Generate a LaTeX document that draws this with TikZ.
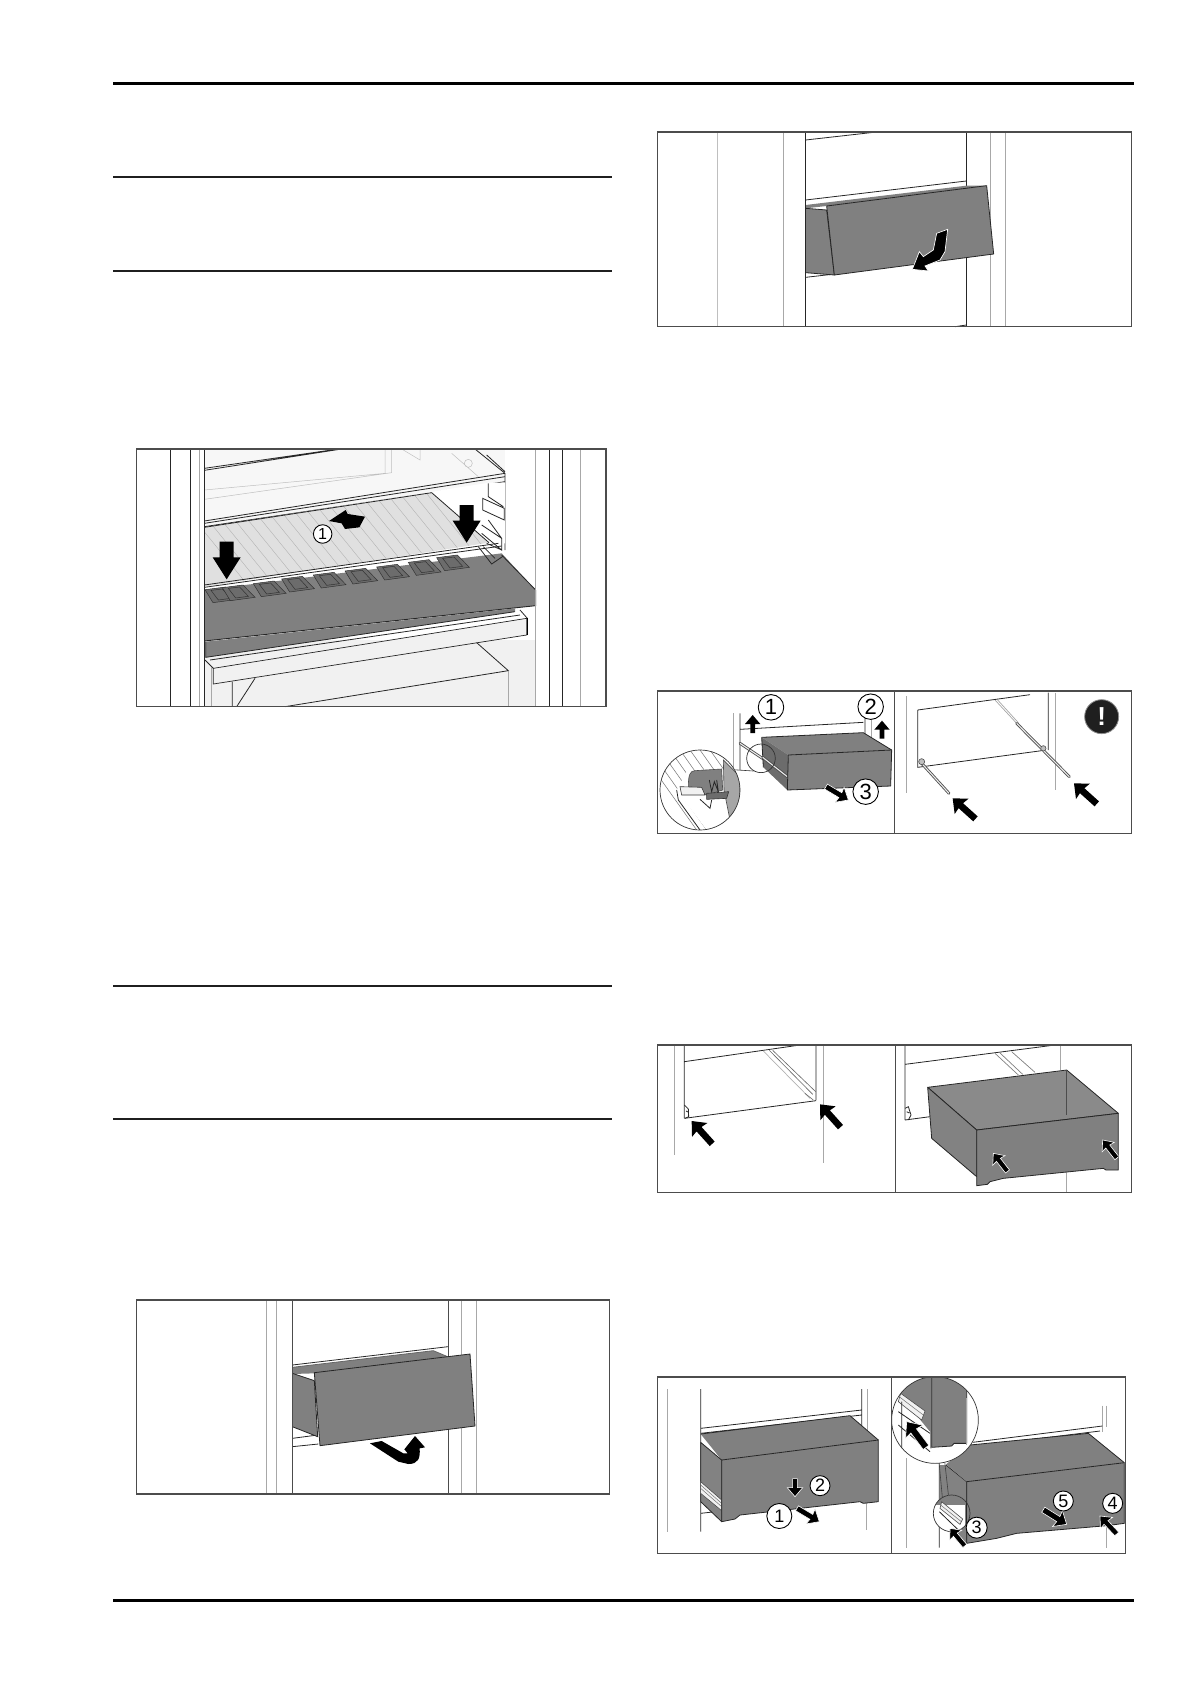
\documentclass[tikz,border=0pt]{standalone}
\usepackage{fontspec}
\setsansfont{Liberation Sans}
\definecolor{drawergray}{HTML}{808080}
\definecolor{darkgray}{HTML}{6C6C6C}
\definecolor{wallgray}{HTML}{A8A8A8}
\definecolor{framegray}{HTML}{4C4C4C}
\definecolor{pale}{HTML}{F1F1F1}
\tikzset{
  rulethick/.style={line width=3pt,black},
  rulethin/.style={line width=2pt,black!88},
  panel/.style={draw=framegray,line width=1.2pt},
  wall/.style={draw=wallgray,line width=1pt},
  edge/.style={draw=black!85,line width=.8pt},
  faint/.style={draw=black!25,line width=.5pt},
  drawer/.style={fill=drawergray,draw=black!85,line width=.8pt,line join=round},
  num/.style={circle,draw=black,fill=white,inner sep=0pt,line width=.9pt,minimum size=#1,font=\sffamily\fontsize{18}{18}\selectfont},
  numbig/.style={num=25.5pt,font=\sffamily\fontsize{22}{22}\selectfont},
  lens/.style={circle,draw=black!80,line width=.7pt,inner sep=0pt,minimum size=#1},
  outlined/.style={draw=white,line width=.7pt},
}
\newcommand{\blockarrow}[4][]{\fill[black,#1,shift={(#2)},rotate=#3,scale=#4] (0,0) -- (-36,-31) -- (-33,-10) -- (-92,-10) -- (-92,10) -- (-33,10) -- (-36,31) -- cycle;}
\newcommand{\tallarrow}[2]{\fill[black,shift={(#1)},rotate=#2] (0,0) -- (-66,-42) -- (-66,-21) -- (-113,-21) -- (-113,21) -- (-66,21) -- (-66,42) -- cycle;}
\newcommand{\smallarrow}[3][]{\fill[black,#1,shift={(#2)},rotate=#3] (0,0) -- (-27,-23) -- (-27,-7) -- (-54,-7) -- (-54,7) -- (-27,7) -- (-27,23) -- cycle;}
\newcommand{\railbar}[2]{\draw[draw=black!70,line width=2.8pt,line cap=round] (#1) -- (#2); \draw[draw=black!8,line width=1.1pt] (#1) -- (#2);}
\begin{document}
\begin{tikzpicture}[x=1pt,y=-1pt]
\useasboundingbox (0,0) rectangle (1191,1684);

\draw[rulethick] (113,83.5) -- (1134,83.5);
\draw[rulethick] (113,1600.3) -- (1134,1600.3);
\foreach \ry in {177,270.7,985.7,1118.7}
  \draw[rulethin] (113,\ry) -- (612,\ry);

% shelf with the ribbed cover
\begin{scope}[shift={(125,440)},scale=1/3]
  \fill[pale!60] (238,27) rectangle (1140,260);
  \fill[pale] (238,600) rectangle (1232,800);
  \draw[faint] (238,150) -- (780,100) (238,178) -- (800,98) (780,27) -- (780,100) (800,27) -- (800,98)
    (830,27) -- (885,60) -- (885,27) (980,40) -- (1060,110) (1030,70) circle (12);
  \draw[edge] (238,85) -- (640,27) (238,91) -- (650,27);
  \draw[edge] (1050,27) -- (1140,100) -- (1140,330) (1085,45) -- (1140,95);
  \draw[edge] (238,243) -- (1140,100) (238,250) -- (1140,110) (238,260) -- (1140,125);
  \fill[white] (238,262) -- (1092,128) -- (1140,128) -- (1140,310) -- (1092,310) -- cycle;
  \fill[black!12] (238,262) -- (920,158) -- (1092,308) -- (238,440) -- cycle;
  \begin{scope}
    \clip (238,262) -- (920,158) -- (1092,308) -- (238,440) -- cycle;
    \foreach \rx in {120,160,...,940}
      \draw[draw=black!30,line width=.4pt] (\rx,130) -- (\rx+260,450);
  \end{scope}
  \draw[edge] (238,262) -- (920,158) -- (1092,308);
  \draw[edge] (1090,130) -- (1090,170) -- (1135,200) (1073,175) -- (1138,205) -- (1138,240) -- (1073,210) -- cycle;
  \draw[edge] (1090,240) -- (1130,295) (1070,255) -- (1130,295) -- (1130,330) -- (1070,280) (1085,310) -- (1130,330);
  \draw[edge] (238,435) -- (1120,310) (238,442) -- (1130,318);
  \fill[drawergray] (238,450) -- (1130,340) -- (1232,450) -- (1232,497) -- (238,603) -- cycle;
  \foreach \hx/\hy in {240/449,292/443,385/431,470/417,565/405,660/393,755/381,850/367,935/353}
    \filldraw[fill=darkgray,draw=black!80,line width=.5pt] (\hx,\hy) -- ++(62,-8) -- ++(36,37) -- ++(-74,10) -- cycle
      (\hx+18,\hy+2) -- ++(34,-4) -- ++(26,28) -- ++(-38,5) -- cycle;
  \draw[edge] (1060,320) -- (1100,372) -- (1135,348) (1075,320) -- (1110,355);
  \draw[edge] (1130,345) -- (1232,450);
  \draw[draw=black!85,line width=.9pt] (1232,450) -- (1232,497) -- (238,603);
  \fill[drawergray] (242,605) -- (1170,505) -- (1170,515) -- (242,652) -- cycle;
  \draw[edge] (242,605) -- (242,652) -- (1170,515);
  \filldraw[fill=pale,draw=black!85,line width=.7pt] (265,685) -- (1205,535) -- (1205,585) -- (265,732) -- cycle;
  \draw[edge] (240,660) -- (265,685) (255,660) -- (1185,525) (1185,510) -- (1207,535);
  \draw[draw=black,line width=1.4pt] (1207,535) -- (1207,585);
  \draw[edge] (1055,608) -- (1150,692) -- (480,800);
  \draw[edge] (322,725) -- (322,800) (390,715) -- (335,800);
  \draw[wall] (258,680) -- (258,800) (1150,692) -- (1150,800);
  \foreach \wx in {222,1232,1365}
    \draw[wall] (\wx,27) -- (\wx,800);
  \foreach \wx in {137,197,238,1273,1313}
    \draw[edge] (\wx,27) -- (\wx,800);
  \tallarrow{305,418}{-90}
  \tallarrow{1025,308}{-90}
  \fill (612,243) -- (662,210) -- (668,222) -- (720,230) -- (703,262) -- (660,267) -- (650,250) -- cycle;
  \node[num=18.5pt,font=\sffamily\fontsize{16}{16}\selectfont] (shelfone) at (593,282) {1};
  \draw[panel] (35,27) rectangle (1443,800);
\end{scope}

% front swung upward
\begin{scope}[shift={(125,1290)},scale=1/3]
  \foreach \wx in {424,455,1009,1055}
    \draw[wall] (\wx,30) -- (\wx,612);
  \foreach \wx in {502,969}
    \draw[draw=black!70,line width=.9pt] (\wx,30) -- (\wx,612);
  \draw[edge] (502,225) -- (969,170);
  \draw[edge] (502,445) -- (578,435) (502,470) -- (580,462);
  \fill[drawergray] (502,232) -- (925,182) -- (968,200) -- (568,250) -- (502,252) -- cycle;
  \draw[edge,draw=black!60] (502,232) -- (925,182) -- (968,200);
  \filldraw[drawer] (502,250) -- (568,272) -- (578,440) -- (502,410);
  \fill[white] (500,235) -- (502,232) -- (502,410) -- (500,410) -- cycle;
  \draw[draw=black!70,line width=.9pt] (502,30) -- (502,612);
  \filldraw[drawer] (568,248) -- (1035,192) -- (1050,408) -- (585,467) -- cycle;
  \fill (735,460) -- (770,453) -- (835,490) -- (848,490) -- (838,478) -- (870,438) -- (900,472) -- (884,475)
    .. controls (886,505) and (880,522) .. (850,522) -- (820,515) -- cycle;
  \draw[panel] (35,30) rectangle (1453,612);
\end{scope}

% front swung downward
\begin{scope}[shift={(650,120)},scale=1/3]
  \draw[draw=black!25,line width=1pt] (202,36) -- (202,620);
  \foreach \wx in {400,1021,1066}
    \draw[wall] (\wx,36) -- (\wx,620);
  \foreach \wx in {467,949}
    \draw[edge] (\wx,36) -- (\wx,620);
  \draw[edge] (467,60) -- (680,36) (467,240) -- (949,183) (467,472) -- (555,462) (915,620) -- (949,615);
  \fill[drawergray] (467,255) -- (949,197) -- (1010,197) -- (530,258) -- (467,265) -- cycle;
  \filldraw[drawer] (467,265) -- (530,270) -- (553,465) -- (467,458);
  \draw[edge] (467,255) -- (467,458);
  \filldraw[drawer] (530,258) -- (1010,197) -- (1031,402) -- (553,465) -- cycle;
  \filldraw[fill=black,outlined] (893,328) -- (860,340) -- (850,390) -- (820,410) -- (808,395) -- (787,448)
    -- (835,453) -- (825,438) -- (870,420) -- (885,395) -- cycle;
  \draw[panel] (23,36) rectangle (1445,620);
\end{scope}

% unhooking the drawer, rails in
\begin{scope}[shift={(650,680)},scale=1/3]
  \draw[wall] (250,100) -- (250,265) (665,110) -- (665,180);
  \draw[edge] (270,100) -- (270,270) (270,148) -- (640,127) (645,110) -- (645,170);
  \railbar{270,190}{412,285}
  \fill[drawergray] (335,172) -- (640,158) -- (725,210) -- (415,225) -- cycle;
  \draw[edge] (335,172) -- (640,158) -- (725,210);
  \fill[darkgray] (335,172) -- (415,225) -- (412,330) -- (340,262) -- cycle;
  \draw[edge] (335,172) -- (340,262);
  \railbar{338,232}{412,290}
  \filldraw[drawer] (415,225) -- (725,210) -- (722,318) -- (412,330) -- cycle;
  \smallarrow{308,105}{90}
  \smallarrow{696,122}{90}
  \blockarrow[draw=white,line width=.6pt]{595,360}{-31}{.85}
  \begin{scope}
    \clip (150,330) circle (120);
    \fill[white] (30,210) rectangle (270,450);
    \foreach \hx in {-30,0,...,180}
      \draw[draw=black!55,line width=.5pt] (\hx,210) -- (\hx+170,450);
    \fill[white] (80,330) -- (110,275) -- (225,270) -- (245,450) -- (170,450) -- cycle;
    \draw[edge] (80,330) -- (85,360) -- (150,450);
    \filldraw[fill=black!35,draw=black!70,line width=.6pt] (220,240) -- (270,290) -- (270,400) -- (240,420) -- (222,330) -- cycle;
    \filldraw[fill=drawergray,draw=black!70,line width=.6pt] (115,320) .. controls (115,285) and (120,272) .. (135,272) -- (215,267) -- (218,330) -- (170,345) -- cycle;
    \draw[edge] (178,300) -- (185,335) -- (193,305) -- (205,335) -- (200,300);
    \filldraw[fill=pale,draw=black!80,line width=.6pt] (90,320) -- (155,322) -- (165,345) -- (95,345) -- cycle;
    \filldraw[fill=darkgray,draw=black!80,line width=.6pt] (170,340) -- (236,335) -- (230,355) -- (170,358) -- cycle;
    \draw[edge] (150,358) -- (180,385) -- (185,360);
  \end{scope}
  \node[lens=80pt] (drawerlens) at (150,330) {};
  \node[lens=28.6pt] (raillens) at (333,235) {};
  \draw[draw=black!80,line width=.6pt] (drawerlens.30) -- (raillens.240);
  \node[numbig] (liftone) at (363,82) {1};
  \node[numbig] (lifttwo) at (662,80) {2};
  \node[numbig] (pullthree) at (647,335) {3};

  \draw[wall] (770,48) -- (770,340) (1217,38) -- (1217,330);
  \draw[edge] (1195,38) -- (1195,210) (803,90) -- (1140,44) (803,90) -- (803,262) -- (1175,212);
  \draw[draw=black!35,line width=.7pt] (1035,60) -- (1098,128) (1043,60) -- (1105,128);
  \railbar{1100,130}{1258,290}
  \railbar{815,250}{897,340}
  \filldraw[fill=black!25,draw=black!70,line width=.6pt] (1180,205) circle (8) (815,245) circle (9);
  \blockarrow{908,355}{138}{1}
  \blockarrow{1272,310}{138}{1}
  \node[circle,fill=black!88,draw=black!45,line width=.8pt,minimum size=34pt,inner sep=0pt,text=white,font=\sffamily\bfseries\fontsize{26}{26}\selectfont] (warning) at (1355,110) {!};
  \draw[panel] (23,33) rectangle (1445,460);
  \draw[panel] (733,33) -- (733,460);
\end{scope}

% rails with and without drawer
\begin{scope}[shift={(650,1035)},scale=1/3]
  \draw[wall] (73,30) -- (73,360) (519,30) -- (519,385);
  \draw[edge] (103,30) -- (103,250) (498,30) -- (498,195) (103,80) -- (450,30) (103,250) -- (498,197);
  \draw[draw=black!30,line width=.7pt] (340,48) -- (480,190);
  \draw[draw=black!60,line width=.6pt] (358,46) -- (488,178) (368,46) -- (497,170) (465,175) -- (490,195);
  \draw[edge] (103,210) -- (115,222) -- (116,245) -- (105,250) (108,228) -- (116,232);
  \blockarrow{125,258}{132}{1}
  \blockarrow{510,208}{132}{1}

  \draw[edge] (765,30) -- (765,255) (765,88) -- (1215,30) (765,255) -- (840,245);
  \draw[edge] (765,220) -- (775,215) -- (783,240) -- (775,255) (770,230) -- (778,234);
  \draw[wall] (1232,30) -- (1232,105) (1250,405) -- (1250,470);
  \draw[draw=black!50,line width=.7pt] (1035,55) -- (1105,120) (1048,52) -- (1118,118) (1085,50) -- (1155,112);
  \filldraw[drawer,fill=drawergray!92!white] (833,157) -- (1250,105) -- (1405,235) -- (980,285) -- cycle;
  \draw[draw=black!70,line width=.6pt] (1250,105) -- (1250,240);
  \filldraw[drawer,fill=darkgray!85!white] (833,157) -- (845,310) -- (980,425) -- (980,285) -- cycle;
  \filldraw[drawer] (980,285) -- (1405,235) -- (1405,405) -- (1368,405) -- (1360,400) -- (1060,430) -- (1020,440) -- (1012,448) -- (980,452) -- cycle;
  \blockarrow[draw=white,line width=.6pt]{1030,355}{128}{.75}
  \begin{scope}
    \clip (1300,250) rectangle (1405,420);
    \blockarrow[draw=white,line width=.6pt]{1358,315}{128}{.75}
  \end{scope}
  \draw[panel] (23,30) rectangle (1445,472);
  \draw[panel] (736,30) -- (736,472);
\end{scope}

% putting the drawer back
\begin{scope}[shift={(650,1365)},scale=1/3]
  \draw[wall] (52,72) -- (52,500) (652,72) -- (652,200) (650,415) -- (650,495);
  \draw[edge] (152,72) -- (152,500) (635,72) -- (635,200) (152,190) -- (635,135) (152,205) -- (635,150) (152,445) -- (215,438);
  \fill[drawergray] (152,207) -- (600,152) -- (685,225) -- (215,285) -- cycle;
  \filldraw[drawer,fill=darkgray!85!white] (152,232) -- (215,285) -- (215,470) -- (152,410) -- cycle;
  \filldraw[fill=pale,draw=black!70,line width=.6pt] (152,350) -- (215,405) -- (215,437) -- (152,385) -- cycle;
  \draw[draw=black!55,line width=.5pt] (152,360) -- (215,415) (152,370) -- (215,425);
  \draw[edge] (152,207) -- (600,152) -- (685,225);
  \filldraw[drawer] (215,285) -- (685,225) -- (685,410) -- (640,415) -- (630,410) -- (270,450) -- (255,462) -- (215,470) -- cycle;
  \smallarrow[draw=white,line width=.6pt]{435,395}{-90}
  \blockarrow[draw=white,line width=.6pt]{508,470}{-31}{.85}
  \node[num=20pt] (pushtwo) at (510,362) {2};
  \node[num=25pt] (pushone) at (388,453) {1};

  \draw[wall] (770,280) -- (770,548) (1357,122) -- (1357,200) (1370,122) -- (1370,185) (1370,480) -- (1370,548);
  \draw[edge] (868,290) -- (868,548) (968,232) -- (1357,183) (968,245) -- (1350,198);
  \fill[darkgray!85!white] (870,300) -- (888,300) -- (950,350) -- (950,535) -- (870,470) -- cycle;
  \draw[edge] (888,300) -- (950,350) -- (950,535);
  \fill[drawergray] (888,298) -- (960,240) -- (1315,205) -- (1423,293) -- (950,350) -- cycle;
  \draw[edge] (960,240) -- (1315,205) -- (1423,293);
  \filldraw[drawer] (950,350) -- (1423,293) -- (1423,475) -- (1370,482) -- (1100,505) -- (1040,520) -- (950,535) -- cycle;
  \begin{scope}
    \clip (905,445) circle (55);
    \fill[white] (850,390) rectangle (945,500);
    \fill[drawergray] (850,390) rectangle (950,420);
    \fill[drawergray] (950,390) rectangle (960,500);
    \draw[edge] (950,390) -- (950,500);
    \filldraw[fill=pale,draw=black!70,line width=.6pt] (875,410) -- (938,462) -- (930,478) -- (870,430) -- cycle;
    \draw[draw=black!55,line width=.5pt] (872,420) -- (934,470);
    \draw[edge] (868,440) -- (925,495);
  \end{scope}
  \begin{scope}
    \clip (855,165) circle (130);
    \fill[white] (720,30) rectangle (990,300);
    \fill[drawergray] (725,30) -- (845,30) -- (845,250) -- (840,250) -- (840,200) -- (750,90) -- cycle;
    \fill[white] (725,100) -- (840,200) -- (840,300) -- (725,300) -- cycle;
    \filldraw[fill=pale,draw=black!70,line width=.6pt] (752,85) -- (825,138) -- (815,165) -- (745,110) -- cycle;
    \draw[draw=black!55,line width=.5pt] (750,97) -- (820,150);
    \draw[edge] (745,140) -- (840,205) (745,180) -- (840,260) (755,110) -- (755,300);
    \filldraw[drawer] (845,30) -- (950,30) -- (950,235) -- (912,235) -- (905,243) -- (845,247) -- cycle;
    \draw[wall] (950,100) -- (950,240);
    \blockarrow[draw=white,line width=.6pt]{770,170}{127}{1.05}
  \end{scope}
  \node[lens=86.7pt] (insertlens) at (855,165) {};
  \node[lens=36.7pt] (cornerlens) at (905,445) {};
  \draw[draw=black!75,line width=.6pt] (insertlens.283) -- (cornerlens.100) (868,300) -- (cornerlens.120);
  \blockarrow[draw=white,line width=.6pt]{900,490}{130}{.75}
  \blockarrow[draw=white,line width=.6pt]{1250,478}{-32}{.9}
  \blockarrow[draw=white,line width=.6pt]{1350,453}{133}{.8}
  \node[num=21pt] (pushthree) at (980,488) {3};
  \node[num=20pt] (pushfive) at (1240,408) {5};
  \node[num=20pt] (pushfour) at (1388,415) {4};
  \draw[panel] (23,36) rectangle (1427,565);
  \draw[panel] (725,36) -- (725,565);
\end{scope}
\end{tikzpicture}
\end{document}
